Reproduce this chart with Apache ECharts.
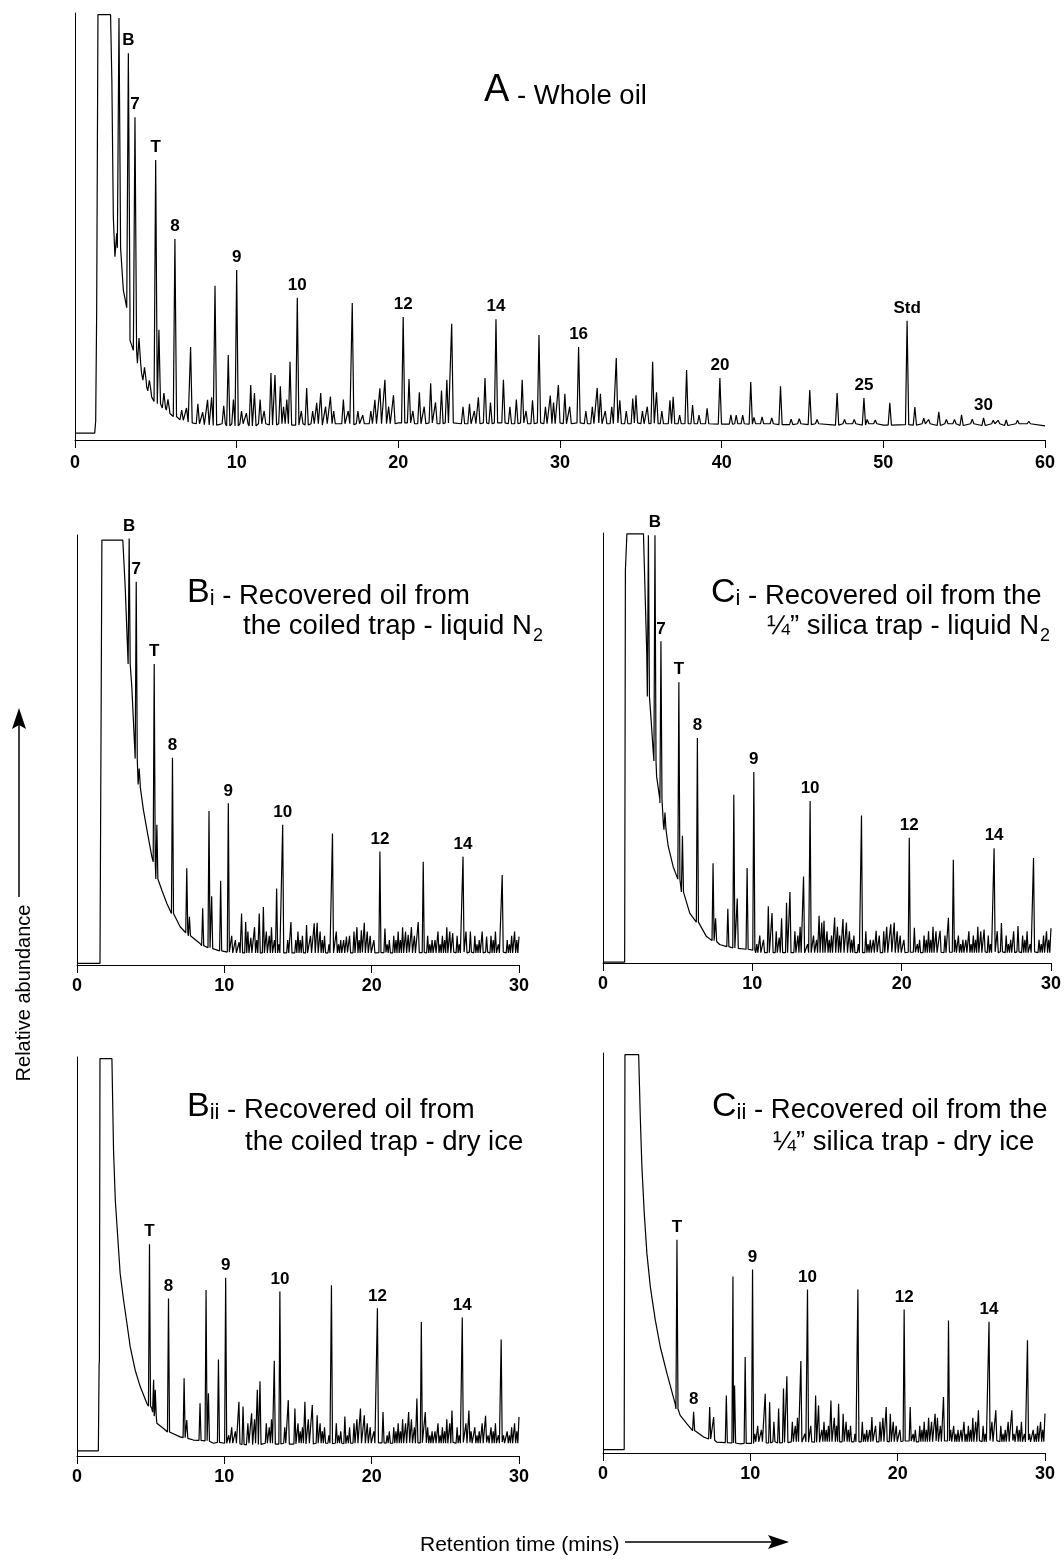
<!DOCTYPE html>
<html>
<head>
<meta charset="utf-8">
<script src="https://cdn.jsdelivr.net/npm/echarts@6/dist/echarts.min.js"></script>
<style>
  html, body { margin: 0; background: #fff; }
  #main { width: 1064px; height: 1563px; }
</style>
</head>
<body>
<div id="main"></div>
<script>
// chromatograms, y in % of each panel's height, x in minutes
const FONT = '"Liberation Sans", Arial, Helvetica, sans-serif';

// ---- A - whole oil (0-60 min) ----
// baseline / solvent envelope [t, y]
const envA = [[0, 1.6], [1.22, 1.6], [1.28, 4.5], [1.34, 30], [1.42, 99.6], [2.2, 99.6], [2.28, 84.3], [2.37, 52.3],
  [2.47, 42.9], [2.58, 48.4], [2.78, 40.6], [2.99, 35.1], [3.2, 32.8], [3.4, 23.4], [3.71, 21.1], [4.12, 15.6],
  [4.43, 12.5], [4.74, 10.1], [5.26, 7.8], [5.87, 6.2], [6.49, 4.7], [7.32, 3.9], [9.38, 3.1], [20, 4.0],
  [30, 4.0], [40, 3.7], [50, 3.5], [60, 3.3]];
// peaks [t, top, base]
const peaksA = [[2.72, 98.8, 45], [3.30, 90.6, 31], [3.71, 75.6, 21], [3.96, 23.9, 18], [4.3, 17, 14], [4.6, 14, 11.5],
  [4.99, 65.6, 9], [5.19, 25.8, 8.5], [5.5, 11, 7.5], [5.75, 9.5, 7], [6.18, 47.1, 5.5], [6.6, 7, 4.6], [6.9, 7.5, 4.2],
  [7.15, 21.8, 4], [7.6, 8.5, 3.8], [7.9, 6.5, 3.6], [8.2, 9.4, 3.5], [8.45, 10, 3.4], [8.66, 36.1, 3.5],
  [9.48, 19.9, 3.3], [10.0, 39.8, 3.3], [10.87, 12.9, 3.3], [11.1, 11.0, 3.3], [12.12, 15.7, 3.5], [12.37, 15.2, 3.5],
  [13.3, 18.3, 3.5], [13.75, 33.3, 3.5], [14.33, 12.2, 3.5], [15.2, 11.0, 3.5], [17.15, 32.1, 3.6], [19.17, 14.1, 3.8],
  [20.3, 28.8, 4], [20.66, 14.3, 4], [22.0, 13.3, 4], [23.0, 14.1, 4], [23.3, 27.2, 4], [25.36, 14.5, 4],
  [26.04, 28.3, 4], [26.5, 14.1, 4], [27.66, 14.1, 4], [28.7, 24.6, 4], [29.9, 12.9, 4], [31.15, 21.8, 4],
  [32.3, 12.2, 4], [33.48, 19.2, 4], [34.7, 10.5, 4], [35.73, 18.3, 3.9], [37.0, 10.1, 3.8], [37.83, 16.4, 3.8],
  [39.89, 14.5, 3.7], [40.57, 5.9, 3.7], [41.8, 13.6, 3.7], [43.64, 12.6, 3.6], [44.3, 4.9, 3.6], [45.45, 11.7, 3.6],
  [47.14, 11.0, 3.5], [48.8, 9.8, 3.5], [50.4, 8.7, 3.5], [51.47, 27.9, 3.6], [51.95, 7.7, 3.5], [53.43, 6.6, 3.4],
  [54.84, 5.9, 3.4], [56.2, 5.2, 3.4], [57.6, 4.7, 3.4]];
// small peaks [t, height above baseline]
const grassA = [[9.2, 4.2], [9.6, 2], [9.8, 5.7], [10.3, 3], [10.6, 2.5], [11.45, 5.7], [11.7, 3], [11.85, 8],
  [12.7, 8.8], [12.9, 4], [13.1, 5.7], [14.0, 3], [14.5, 6.4], [14.7, 3], [14.95, 4.9], [15.5, 4], [15.8, 6.4],
  [16.0, 3], [16.2, 4.9], [16.6, 5.7], [16.9, 3], [17.5, 3], [17.8, 2], [18.0, 6.3], [18.3, 3], [18.55, 5.6],
  [18.86, 8.3], [19.4, 4], [19.7, 6.7], [19.9, 3], [20.9, 3], [21.3, 7.4], [21.6, 4], [21.85, 6.2], [22.3, 5],
  [22.67, 7.8], [23.5, 7.8], [24.0, 4], [24.4, 4.7], [24.7, 3], [24.95, 6.2], [25.7, 5], [26.6, 8], [26.9, 4],
  [27.3, 5.7], [27.9, 3], [28.0, 4], [28.3, 5.5], [29.1, 4], [29.4, 6.6], [29.6, 5], [30.0, 7.8], [30.3, 7],
  [30.6, 4], [31.6, 3], [32.0, 4], [32.5, 7], [32.8, 3], [33.2, 4], [33.7, 5.5], [34.1, 3], [34.5, 5.9], [35.1, 3],
  [35.4, 4], [35.97, 7.4], [36.3, 3], [36.8, 5.5], [37.4, 2], [38.2, 4.4], [38.6, 2], [39.1, 3.6], [40.9, 2],
  [41.3, 2], [42.0, 1.5], [42.5, 1.6], [43.1, 1.4], [44.8, 1.2], [45.9, 1], [46.0, 1.0], [47.6, 1], [48.2, 1],
  [49.0, 1], [49.5, 0.9], [52.5, 1.3], [52.8, 1], [53.9, 1], [54.4, 1], [55.5, 1.1], [56.8, 0.8], [57.1, 0.8],
  [58.3, 0.8], [59.0, 0.6]];
const labelsA = [['B', 3.30], ['7', 3.71], ['T', 4.99], ['8', 6.18], ['9', 10.0], ['10', 13.75], ['12', 20.3],
  ['14', 26.04], ['16', 31.15], ['20', 39.89], ['25', 48.8], ['Std', 51.47], ['30', 56.2]];

// ---- Bi - coiled trap, liquid N2 ----
const envBi = [[0, 0.4], [1.56, 0.4], [1.69, 98.8], [3.11, 98.8], [3.27, 88.0], [3.5, 72.5], [3.72, 64.7],
  [3.88, 53.1], [4.06, 46.1], [4.29, 41.5], [4.51, 36.0], [4.79, 30.6], [5.08, 25.2], [5.42, 20.5], [5.76, 17.4],
  [6.1, 14.3], [6.55, 11.2], [7.0, 8.9], [7.68, 6.6], [8.35, 5.0], [9.26, 3.5], [10.6, 2.7], [20, 2.9],
  [29.8, 3.0], [30, 6.6]];
const peaksBi = [[3.54, 99.2, 70], [4.02, 89.1, 48], [4.22, 45.7, 42], [5.24, 70.0, 24], [5.42, 32.6, 20],
  [6.48, 48.2, 12], [7.45, 22.5, 7.5], [7.63, 11.2, 6.8], [8.53, 13.2, 4.5], [8.96, 35.8, 4], [9.14, 16, 3.8],
  [9.75, 19.6, 3.3], [10.27, 37.6, 3], [11.17, 12, 2.8], [11.45, 10, 2.8], [12.37, 12, 2.8], [12.65, 13.5, 2.8],
  [13.55, 17.8, 2.8], [13.96, 32.6, 2.8], [14.52, 10, 2.8], [15.58, 9.3, 2.8], [16.1, 9.7, 2.8], [17.34, 30.6, 2.8],
  [18.29, 6.6, 2.9], [19.3, 8.1, 2.9], [20.56, 26.4, 2.9], [20.9, 8.5, 2.9], [22.48, 7, 2.9], [23.16, 10, 2.9],
  [23.5, 24.0, 2.9], [25.5, 7.4, 3], [26.2, 25.2, 3], [26.7, 7.8, 3], [27.8, 6.6, 3], [28.86, 20.9, 3]];
const labelsBi = [['B', 3.54], ['7', 4.02], ['T', 5.24], ['8', 6.48], ['9', 10.27], ['10', 13.96], ['12', 20.56], ['14', 26.2]];

// ---- Ci - 1/4" silica trap, liquid N2 ----
const envCi = [[0, 0.2], [1.45, 0.2], [1.5, 91.4], [1.6, 99.8], [2.71, 99.8], [2.93, 72.0], [3.22, 56.6],
  [3.37, 48.8], [3.59, 43.4], [3.81, 37.2], [4.04, 32.5], [4.37, 27.1], [4.7, 22.4], [5.04, 19.4], [5.37, 15.4],
  [5.81, 11.6], [6.26, 9.3], [6.92, 6.2], [7.81, 4.3], [9.14, 3.1], [10.7, 2.3], [20, 2.5], [29.8, 2.6], [30, 8.1]];
const peaksCi = [[3.04, 99.5, 62], [3.48, 99.5, 47], [3.88, 74.8, 38], [4.15, 35, 31], [5.08, 65.3, 19.5],
  [5.32, 29.6, 16.5], [6.32, 52.3, 9.5], [7.37, 23.2, 5.2], [7.54, 10.4, 5], [8.36, 12.6, 3.8], [8.76, 39.1, 3.5],
  [8.99, 15, 3.4], [9.65, 22.1, 3.2], [10.1, 44.4, 3], [11.07, 13.2, 2.4], [11.32, 11.6, 2.4], [11.96, 10.4, 2.4],
  [12.29, 14, 2.4], [12.52, 16.5, 2.4], [13.43, 20.1, 2.4], [13.87, 37.7, 2.4], [14.47, 11, 2.4], [14.8, 9.8, 2.4],
  [15.51, 10.6, 2.4], [16.07, 10.2, 2.4], [17.31, 34.3, 2.4], [18.29, 7.5, 2.5], [19.27, 9, 2.5], [20.51, 29.1, 2.5],
  [20.85, 8.2, 2.5], [22.57, 7.5, 2.5], [23.13, 10.5, 2.5], [23.46, 24.0, 2.5], [25.52, 7.8, 2.6], [26.19, 26.7, 2.6],
  [26.68, 9.3, 2.6], [27.79, 8.6, 2.6], [28.83, 24.4, 2.6]];
const labelsCi = [['B', 3.48], ['7', 3.88], ['T', 5.08], ['8', 6.32], ['9', 10.1], ['10', 13.87], ['12', 20.51], ['14', 26.19]];

// ---- Bii - coiled trap, dry ice ----
const envBii = [[0, 1.3], [1.45, 1.3], [1.5, 22.8], [1.52, 24], [1.56, 99.6], [2.37, 99.6], [2.48, 76.6],
  [2.6, 64.1], [2.75, 55.7], [2.93, 45.7], [3.16, 39.1], [3.39, 33.2], [3.61, 27.4], [3.95, 21.5], [4.29, 17.4],
  [4.74, 13.2], [5.08, 11.9], [5.42, 8.2], [5.87, 6.9], [6.32, 5.7], [7.0, 4.8], [7.9, 4.0], [9.26, 3.2],
  [11.5, 2.8], [20, 3.3], [29.8, 3.5], [30, 9.8]];
const peaksBii = [[4.92, 53.1, 12.5], [5.2, 19.1, 11], [5.31, 16.6, 10], [6.21, 39.5, 6], [7.27, 19.5, 4.6],
  [7.45, 9, 4.4], [8.35, 13.2, 3.9], [8.76, 41.6, 3.8], [8.92, 15.7, 3.7], [9.6, 24.2, 3.4], [10.09, 44.7, 3.2],
  [10.99, 13.6, 3], [11.27, 12.4, 2.9], [11.85, 10.7, 2.8], [12.24, 16.6, 2.9], [12.42, 18.7, 2.9], [13.39, 23.9, 3],
  [13.77, 41.2, 3], [14.34, 14, 3], [14.79, 11.9, 3], [15.47, 13.6, 3], [15.97, 12.8, 3], [17.27, 42.8, 3.1],
  [18.18, 9.9, 3.1], [19.24, 11.9, 3.2], [20.39, 37.0, 3.3], [20.77, 11, 3.3], [22.51, 11, 3.3], [23.07, 14.4, 3.3],
  [23.37, 33.6, 3.3], [23.64, 11, 3.3], [25.45, 11.4, 3.4], [26.15, 34.7, 3.4], [26.6, 11.4, 3.4], [27.73, 10.1, 3.4],
  [28.79, 29.2, 3.5]];
const labelsBii = [['T', 4.92], ['8', 6.21], ['9', 10.09], ['10', 13.77], ['12', 20.39], ['14', 26.15]];

// ---- Cii - 1/4" silica trap, dry ice ----
const envCii = [[0, 0.85], [1.44, 0.85], [1.49, 99.6], [2.42, 99.6], [2.53, 84.1], [2.64, 71.6], [2.8, 59.9],
  [2.98, 49.9], [3.21, 41.6], [3.55, 33.2], [3.89, 26.5], [4.34, 19.9], [4.9, 12.3], [5.24, 9.4], [5.7, 7.3],
  [6.15, 5.6], [6.83, 4.0], [7.73, 2.7], [9.32, 2.3], [20, 3.0], [29.8, 3.2], [30, 9.9]];
const peaksCii = [[5.02, 53.3, 11], [6.15, 10.3, 5.6], [7.24, 11.5, 3.5], [7.51, 9, 3.2], [8.37, 14.4, 2.6],
  [8.82, 44.1, 2.5], [8.93, 16.9, 2.5], [9.65, 24.0, 2.4], [10.15, 45.9, 2.4], [11.01, 14.8, 2.5], [11.31, 12.7, 2.5],
  [11.92, 11.1, 2.5], [12.25, 16.1, 2.6], [12.48, 19.2, 2.6], [13.43, 23.0, 2.7], [13.88, 40.9, 2.7], [14.43, 14.4, 2.7],
  [14.63, 11.9, 2.7], [15.47, 13.1, 2.8], [15.99, 12.3, 2.8], [17.3, 40.9, 2.8], [18.25, 9, 2.9], [19.22, 11.5, 2.9],
  [20.44, 35.9, 3], [20.85, 11.5, 3], [22.54, 9.8, 3], [23.11, 14, 3], [23.45, 33.1, 3], [25.48, 10.7, 3.1],
  [26.2, 32.8, 3.1], [26.66, 10.7, 3.1], [27.75, 10.7, 3.1], [28.81, 28.2, 3.2]];
const labelsCii = [['T', 5.02], ['8', 6.15], ['9', 10.15], ['10', 13.88], ['12', 20.44], ['14', 26.2]];

// small peaks shared by the 0-30 min runs [t, height above baseline]
const grass30 = [[10.3, 2], [10.5, 4], [10.75, 3], [11.0, 2.5], [11.3, 3], [11.6, 5], [11.8, 3.5], [12.05, 6],
  [12.2, 3], [12.5, 4], [12.85, 5], [13.05, 4], [13.2, 6], [13.4, 3], [13.7, 2], [14.1, 4], [14.3, 3], [14.65, 7],
  [14.85, 3], [15.0, 5], [15.15, 3], [15.3, 4], [15.5, 3], [15.7, 6], [15.85, 4], [16.0, 3], [16.3, 7], [16.5, 5],
  [16.65, 3], [16.8, 4], [17.1, 2], [17.6, 5], [17.75, 2], [17.9, 3], [18.1, 3], [18.35, 2], [18.5, 4], [18.8, 5],
  [19.0, 6], [19.15, 3], [19.35, 4], [19.5, 7], [19.7, 5], [19.9, 4], [20.0, 2], [20.15, 3], [20.8, 2], [21.05, 2],
  [21.2, 3], [21.5, 4], [21.65, 3], [21.8, 5], [21.95, 3], [22.1, 6], [22.3, 5], [22.5, 3], [22.7, 6], [22.9, 4],
  [23.0, 3], [23.6, 3], [23.8, 4], [23.95, 2], [24.1, 3], [24.3, 3], [24.5, 5], [24.65, 2], [24.8, 4], [24.95, 3],
  [25.1, 6], [25.3, 5], [25.5, 3], [25.8, 4], [25.95, 2], [26.4, 5], [26.75, 3], [27.0, 4], [27.15, 2], [27.3, 3],
  [27.5, 5], [27.7, 3], [27.9, 2], [28.1, 4], [28.25, 3], [28.4, 5], [28.6, 2], [28.95, 2], [29.2, 3], [29.35, 2],
  [29.5, 4], [29.7, 5], [29.85, 3]];

const panels = [
  { env: envA, peaks: peaksA, grass: grassA, floor: 3.8, labels: labelsA, xmax: 60, w: 0.1, margin: 14,
    grid: { left: 75, top: 13, width: 970, height: 427 } },
  { env: envBi, peaks: peaksBi, grass: grass30, floor: 2.8, labels: labelsBi, xmax: 30, w: 0.07, margin: 12,
    grid: { left: 77, top: 535, width: 442, height: 430 } },
  { env: envCi, peaks: peaksCi, grass: grass30, floor: 2.4, labels: labelsCi, xmax: 30, w: 0.07, margin: 12,
    grid: { left: 603, top: 533, width: 450, height: 430 } },
  { env: envBii, peaks: peaksBii, grass: grass30, floor: 3.2, labels: labelsBii, xmax: 30, w: 0.07, margin: 12,
    grid: { left: 77, top: 1057, width: 442, height: 399 } },
  { env: envCii, peaks: peaksCii, grass: grass30, floor: 2.8, labels: labelsCii, xmax: 30, w: 0.07, margin: 12,
    grid: { left: 603, top: 1053, width: 442, height: 400 } }
];

// build one trace: envelope + narrow peaks
function buildTrace(p) {
  const pts = [];
  const spans = [];
  p.peaks.forEach(([t, top, base]) => {
    pts.push([t - p.w, base], [t, top], [t + p.w, base]);
    spans.push([t - p.w, t + p.w]);
  });
  p.grass.forEach(([t, h]) => {
    if (spans.some(s => t > s[0] - p.w && t < s[1] + p.w)) return;
    pts.push([t - p.w, p.floor], [t, p.floor + h], [t + p.w, p.floor]);
    spans.push([t - p.w, t + p.w]);
  });
  p.env.forEach(e => {
    if (!spans.some(s => e[0] > s[0] && e[0] < s[1])) pts.push(e);
  });
  pts.sort((a, b) => a[0] - b[0]);
  return pts;
}

const series = [];
panels.forEach((p, i) => {
  series.push({
    type: 'line', xAxisIndex: i, yAxisIndex: i, data: buildTrace(p),
    showSymbol: false, symbol: 'none', silent: true,
    lineStyle: { color: '#000', width: 1.2 }
  });
  series.push({
    type: 'scatter', xAxisIndex: i, yAxisIndex: i, symbolSize: 0, silent: true,
    itemStyle: { opacity: 1, color: '#000' },
    data: p.labels.map(([name, t]) => {
      const pk = p.peaks.find(q => q[0] === t);
      return { name: name, value: [t, pk[1]] };
    }),
    label: { show: true, position: 'top', distance: 4, formatter: '{b}', color: '#000',
      fontSize: 17, fontWeight: 'bold', fontFamily: FONT }
  });
});

// rich tokens that share one baseline 6px above the block bottom
const tok = fs => ({ fontSize: fs, lineHeight: 2 * (6 + 0.3465 * fs), fontFamily: FONT, fill: '#000', verticalAlign: 'bottom' });
const line1Rich = { bigA: tok(38), big: tok(34), sm: tok(22), txt: tok(27.5) };
const line2Rich = {
  txt: { fontSize: 27.5, lineHeight: 27.5, fontFamily: FONT, fill: '#000', verticalAlign: 'top' },
  sub: { fontSize: 18, lineHeight: 18, fontFamily: FONT, fill: '#000', verticalAlign: 'top', padding: [14, 0, 0, 1] }
};
// x, baseline
function line1(x, b, text) {
  return { type: 'text', x: x, y: b + 6, style: { text: text, rich: line1Rich, fill: '#000', align: 'left', verticalAlign: 'bottom' } };
}
function line2(x, b, text) {
  return { type: 'text', x: x, y: b - 23.3, style: { text: text, rich: line2Rich, fill: '#000', align: 'left', verticalAlign: 'top' } };
}

const graphic = [
  line1(484, 104, '{bigA|A}{txt| - Whole oil}'),
  line1(187, 604, '{big|B}{sm|i}{txt| - Recovered oil from}'),
  line2(243, 636, '{txt|the coiled trap - liquid N}{sub|2}'),
  line1(711, 604, '{big|C}{sm|i}{txt| - Recovered oil from the}'),
  line2(767, 636, '{txt|¼” silica trap - liquid N}{sub|2}'),
  line1(187, 1118, '{big|B}{sm|ii}{txt| - Recovered oil from}'),
  line2(245, 1152, '{txt|the coiled trap - dry ice}'),
  line1(712, 1118, '{big|C}{sm|ii}{txt| - Recovered oil from the}'),
  line2(773, 1152, '{txt|¼” silica trap - dry ice}'),
  { type: 'text', x: 24, y: 993, rotation: Math.PI / 2,
    style: { text: 'Relative abundance', fontSize: 20, fontFamily: FONT, fill: '#000', align: 'center', verticalAlign: 'middle' } },
  { type: 'line', shape: { x1: 19, y1: 897, x2: 19, y2: 722 }, style: { stroke: '#000', lineWidth: 1.5 } },
  { type: 'polygon', shape: { points: [[19, 708], [26, 729], [19, 725], [12, 729]] }, style: { fill: '#000' } },
  { type: 'text', x: 420, y: 1545,
    style: { text: 'Retention time (mins)', fontSize: 21, fontFamily: FONT, fill: '#000', align: 'left', verticalAlign: 'middle' } },
  { type: 'line', shape: { x1: 625, y1: 1542, x2: 775, y2: 1542 }, style: { stroke: '#000', lineWidth: 1.5 } },
  { type: 'polygon', shape: { points: [[789, 1542], [768, 1535], [772, 1542], [768, 1549]] }, style: { fill: '#000' } }
];

const chart = echarts.init(document.getElementById('main'));
chart.setOption({
  animation: false,
  backgroundColor: '#fff',
  grid: panels.map(p => p.grid),
  xAxis: panels.map((p, i) => ({
    gridIndex: i, type: 'value', min: 0, max: p.xmax, interval: 10,
    axisLine: { show: true, onZero: false, lineStyle: { color: '#000', width: 1 } },
    axisTick: { show: true, length: 8, lineStyle: { color: '#000' } },
    axisLabel: { color: '#000', fontSize: 18, fontWeight: 'bold', fontFamily: FONT, margin: p.margin },
    splitLine: { show: false }
  })),
  yAxis: panels.map((p, i) => ({
    gridIndex: i, type: 'value', min: 0, max: 100,
    axisLine: { show: true, onZero: false, lineStyle: { color: '#000', width: 1 } },
    axisTick: { show: false }, axisLabel: { show: false }, splitLine: { show: false }
  })),
  series: series,
  graphic: graphic
});
</script>
</body>
</html>
